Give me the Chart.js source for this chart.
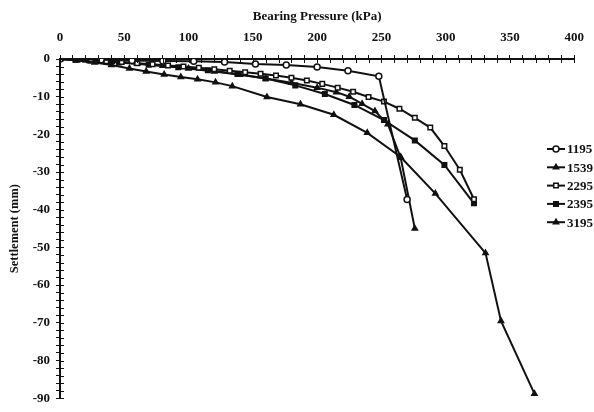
<!DOCTYPE html>
<html>
<head>
<meta charset="utf-8">
<title>Settlement vs Bearing Pressure</title>
<script src="https://cdn.jsdelivr.net/npm/chart.js@4.4.0/dist/chart.umd.min.js"></script>
<style>
  html, body { margin: 0; padding: 0; background: #fff; }
  #wrap { position: relative; width: 594px; height: 412px; }
</style>
</head>
<body>
<div id="wrap"><canvas id="chart"></canvas></div>
<script>
/* ---------- DATA (bearing pressure kPa / settlement mm) ---------- */
const seriesNames = ['1195', '1539', '2295', '2395', '3195'];

const pressure1195 = [0, 32, 56, 80, 104, 128, 152, 176, 200, 224, 248, 270];
const settle1195   = [0, -0.2, -0.4, -0.5, -0.6, -0.8, -1.3, -1.6, -2.1, -3.1, -4.6, -37.3];

const pressure1539 = [0, 13, 27, 40, 54, 67, 81, 94, 107, 121, 134, 161, 187, 213, 239, 265, 292, 331, 343, 369];
const settle1539   = [0, -0.4, -0.9, -1.6, -2.5, -3.3, -4.1, -4.8, -5.4, -6.2, -7.2, -10.1, -12.0, -14.8, -19.6, -26.0, -35.7, -51.5, -69.5, -88.8];

const pressure2295 = [0, 12, 24, 36, 48, 60, 72, 84, 96, 108, 120, 132, 144, 156, 168, 180, 192, 204, 216, 228, 240, 252, 264, 276, 288, 299, 311, 322];
const settle2295   = [0, -0.2, -0.4, -0.6, -0.8, -1.1, -1.4, -1.7, -2.0, -2.3, -2.7, -3.1, -3.5, -3.9, -4.4, -5.0, -5.7, -6.6, -7.6, -8.7, -10.1, -11.3, -13.2, -15.6, -18.2, -23.1, -29.4, -37.2];

const pressure2395 = [0, 23, 46, 69, 92, 115, 138, 160, 183, 206, 229, 252, 276, 299, 322];
const settle2395   = [0, -0.4, -0.9, -1.5, -2.2, -3.0, -4.0, -5.2, -7.0, -9.3, -12.2, -16.2, -21.6, -28.1, -38.3];

const pressure3195 = [0, 20, 40, 60, 80, 100, 120, 140, 160, 180, 200, 215, 225, 235, 245, 255, 265, 276];
const settle3195   = [0, -0.3, -0.7, -1.2, -1.8, -2.5, -3.3, -4.2, -5.2, -6.3, -7.6, -8.8, -10.0, -11.9, -13.8, -17.3, -26.2, -45.0];

/* ---------- STYLE ---------- */
const FONT = 'Liberation Serif';
const INK  = '#111';

const MARKERS = [
  { style: 'circle',   fill: '#fff', radius: 3 },
  { style: 'triangle', fill: INK,    radius: 3 },
  { style: 'rect',     fill: '#fff', radius: 3.2 },
  { style: 'rect',     fill: INK,    radius: 3.2 },
  { style: 'triangle', fill: INK,    radius: 3 }
];

function toPoints(xs, ys) {
  return xs.map((x, i) => ({ x, y: ys[i] }));
}

const allSeries = [
  toPoints(pressure1195, settle1195),
  toPoints(pressure1539, settle1539),
  toPoints(pressure2295, settle2295),
  toPoints(pressure2395, settle2395),
  toPoints(pressure3195, settle3195)
];

/* ---------- PLUGIN: ticks crossing the axis lines ---------- */
const crossTicks = {
  id: 'crossTicks',
  afterDraw(chart) {
    const { ctx, chartArea, scales } = chart;
    ctx.save();
    ctx.strokeStyle = INK;
    ctx.lineWidth = 1;
    ctx.beginPath();
    scales.x.ticks.forEach(t => {
      const px = Math.round(scales.x.getPixelForValue(t.value)) + 0.5;
      ctx.moveTo(px, chartArea.top);
      ctx.lineTo(px, chartArea.top + 4);
    });
    scales.y.ticks.forEach(t => {
      const py = Math.round(scales.y.getPixelForValue(t.value)) + 0.5;
      ctx.moveTo(chartArea.left, py);
      ctx.lineTo(chartArea.left + 4, py);
    });
    ctx.stroke();
    ctx.restore();
  }
};

/* ---------- PLUGIN: legend inside the plot, right side ---------- */
const innerLegend = {
  id: 'innerLegend',
  afterDraw(chart) {
    const ctx = chart.ctx;
    ctx.save();
    ctx.font = 'bold 13px "' + FONT + '"';
    ctx.textBaseline = 'middle';
    ctx.textAlign = 'left';
    chart.data.datasets.forEach((ds, i) => {
      const y = 149 + i * 18.3;
      ctx.strokeStyle = INK;
      ctx.lineWidth = 2;
      ctx.beginPath();
      ctx.moveTo(547, y);
      ctx.lineTo(565, y);
      ctx.stroke();
      ctx.fillStyle = ds.pointBackgroundColor;
      ctx.lineWidth = 1.5;
      Chart.helpers.drawPoint(ctx, {
        pointStyle: ds.pointStyle, rotation: 0,
        radius: ds.pointRadius, borderWidth: 1.5
      }, 556, y);
      ctx.fillStyle = INK;
      ctx.fillText(ds.label, 567, y + 1);
    });
    ctx.restore();
  }
};

/* ---------- CHART ---------- */
new Chart(document.getElementById('chart'), {
  type: 'scatter',
  data: {
    datasets: allSeries.map((pts, i) => ({
      label: seriesNames[i],
      data: pts,
      showLine: true,
      borderColor: INK,
      borderWidth: 2,
      pointStyle: MARKERS[i].style,
      pointRadius: MARKERS[i].radius,
      pointBackgroundColor: MARKERS[i].fill,
      pointBorderColor: INK,
      pointBorderWidth: 1.5,
      tension: 0
    }))
  },
  options: {
    responsive: true,
    maintainAspectRatio: false,
    animation: false,
    devicePixelRatio: 1,
    layout: { padding: { top: 0, right: 11, bottom: 8, left: 0 } },
    plugins: {
      legend: { display: false },
      tooltip: { enabled: false }
    },
    scales: {
      x: {
        type: 'linear',
        position: 'top',
        min: 0, max: 400,
        afterFit: s => { s.height = 59; },
        ticks: {
          stepSize: 10, autoSkip: false, maxRotation: 0, padding: 10,
          color: INK, font: { family: FONT, size: 13, weight: 'bold' },
          callback: v => (v % 50 === 0 ? v : '')
        },
        grid: { drawOnChartArea: false, drawTicks: true, tickLength: 4, color: INK, lineWidth: 1 },
        border: { color: INK, width: 2 },
        title: {
          display: true, text: 'Bearing Pressure (kPa)', color: INK,
          font: { family: FONT, size: 13, weight: 'bold' },
          padding: { top: 9, bottom: 0 }
        }
      },
      y: {
        type: 'linear',
        min: -90, max: 0,
        afterFit: s => { s.width = 60; },
        ticks: {
          stepSize: 2, autoSkip: false, padding: 6,
          color: INK, font: { family: FONT, size: 13, weight: 'bold' },
          callback: v => (v % 10 === 0 ? v : '')
        },
        grid: { drawOnChartArea: false, drawTicks: true, tickLength: 4, color: INK, lineWidth: 1 },
        border: { color: INK, width: 2 },
        title: {
          display: true, text: 'Settlement (mm)', color: INK,
          font: { family: FONT, size: 12.5, weight: 'bold' },
          padding: { top: 7, bottom: 0 }
        }
      }
    }
  },
  plugins: [crossTicks, innerLegend]
});
</script>
</body>
</html>
